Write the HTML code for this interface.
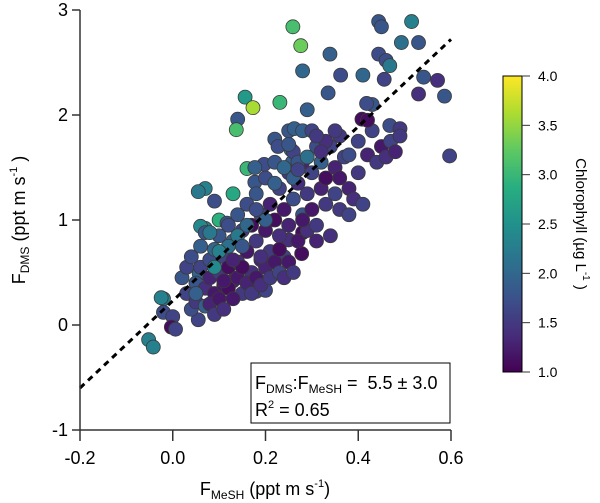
<!DOCTYPE html>
<html><head><meta charset="utf-8">
<style>
html,body{margin:0;padding:0;background:#fff;}
svg{display:block;font-family:"Liberation Sans",Arial,sans-serif;}
</style></head>
<body>
<svg id="chart" width="600" height="503" viewBox="0 0 600 503">
<defs>
<linearGradient id="vir" x1="0" y1="1" x2="0" y2="0">
<stop offset="0" stop-color="#440154"/><stop offset="0.125" stop-color="#472d7b"/>
<stop offset="0.25" stop-color="#3b528b"/><stop offset="0.375" stop-color="#2c728e"/>
<stop offset="0.5" stop-color="#21918c"/><stop offset="0.625" stop-color="#28ae80"/>
<stop offset="0.75" stop-color="#5ec962"/><stop offset="0.875" stop-color="#addc30"/>
<stop offset="1" stop-color="#fde725"/>
</linearGradient>
</defs>
<g id="points"></g>
<line id="fit" stroke="#000" stroke-width="3" stroke-dasharray="6,5"/>
<g id="axes"></g>
<g>
<rect x="251" y="363" width="199" height="60" fill="#fff" stroke="#000" stroke-width="1"/>
<text x="255" y="389" font-size="18">F<tspan font-size="12" dy="4">DMS</tspan><tspan dy="-4">:F</tspan><tspan font-size="12" dy="4">MeSH</tspan><tspan dy="-4"> =&#160; 5.5 ± 3.0</tspan></text>
<text x="255" y="416" font-size="18">R<tspan font-size="11" dy="-8">2</tspan><tspan dy="8"> = 0.65</tspan></text>
</g>
<text x="265" y="495" font-size="18" text-anchor="middle">F<tspan font-size="12" dy="4">MeSH</tspan><tspan dy="-4"> (ppt m s</tspan><tspan font-size="11" dy="-8">-1</tspan><tspan dy="8">)</tspan></text>
<text transform="translate(25,220) rotate(-90)" font-size="18" text-anchor="middle">F<tspan font-size="12" dy="4">DMS</tspan><tspan dy="-4"> (ppt m s</tspan><tspan font-size="11" dy="-8">-1</tspan><tspan dy="8"> )</tspan></text>
<g>
<rect x="503" y="76" width="19" height="296" fill="url(#vir)" stroke="#000" stroke-width="1"/>
<g id="cbticks"></g>
<text transform="translate(576,224) rotate(90)" font-size="15" text-anchor="middle">Chlorophyll (µg L<tspan font-size="10" dy="-7">-1</tspan><tspan dy="7"> )</tspan></text>
</g>
</svg>
<script>
const xTicks = [-0.2, 0.0, 0.2, 0.4, 0.6];
const yTicks = [-1, 0, 1, 2, 3];
const cTicks = [1.0, 1.5, 2.0, 2.5, 3.0, 3.5, 4.0];
const fitX = [-0.2, 0.6];
const fitY = [-0.6, 2.72];
const xs = [0.259,0.276,0.339,0.28,0.444,0.45,0.515,0.493,0.53,0.362,0.41,0.444,0.46,0.468,0.456,0.541,0.571,0.53,0.586,0.335,0.43,0.418,0.408,0.468,0.49,0.597,
0.156,0.173,0.231,0.14,0.137,0.29,0.25,0.262,0.28,0.22,0.227,0.255,0.258,0.197,0.16,0.177,0.07,0.055,0.09,0.13,0.177,0.07,
0.06,0.10,0.117,0.08,0.057,-0.02,-0.02,0.0,-0.003,0.055,0.18,0.2,0.25,0.28,0.31,-0.052,-0.042,-0.025,0.006,0.278,
0.03,0.04,0.05,0.05,0.06,0.07,0.07,0.08,0.08,0.09,0.09,0.10,0.10,0.11,0.11,0.12,0.12,0.13,0.13,0.14,0.14,0.15,0.15,0.16,0.16,0.17,0.17,0.18,0.18,0.19,0.19,0.20,0.20,0.21,0.21,0.22,0.22,0.23,0.23,0.24,0.24,0.25,0.25,0.26,0.26,0.27,0.27,0.28,0.28,0.29,0.29,0.30,0.30,0.31,0.31,0.32,0.32,0.33,0.33,0.34,0.34,0.35,0.35,0.36,0.36,0.37,0.38,0.38,0.39,0.40,0.41,0.42,0.43,0.44,0.45,0.46,0.47,0.48,0.49,0.42,
0.02,0.03,0.04,0.06,0.07,0.08,0.09,0.10,0.11,0.12,0.13,0.14,0.15,0.16,0.17,0.18,0.19,0.20,0.21,0.22,0.23,0.24,0.25,0.26,0.20,0.18,0.16,0.14,0.12,0.10,0.09,0.24,0.27,0.22,0.26,0.30,0.33,0.36,0.38,0.40,
0.31,0.32,0.29,0.35,0.25,0.27,0.11,0.13,0.05,0.15,0.08,0.23,0.19,0.28];
const ys = [2.84,2.66,2.58,2.42,2.89,2.84,2.89,2.69,2.69,2.38,2.38,2.58,2.52,2.47,2.34,2.36,2.33,2.2,2.18,2.21,2.1,2.11,1.96,1.9,1.87,1.61,
2.17,2.07,2.12,1.96,1.86,2.05,1.85,1.87,1.85,1.77,1.7,1.67,1.55,1.53,1.49,1.5,1.3,1.27,1.18,1.25,1.36,0.92,
0.94,1.0,0.97,0.62,0.49,0.25,0.12,0.08,-0.02,0.05,0.32,0.33,0.81,0.88,0.8,-0.14,-0.21,0.26,-0.04,0.68,
0.30,0.15,0.22,0.40,0.55,0.35,0.18,0.45,0.62,0.30,0.72,0.50,0.85,0.38,0.65,0.95,0.55,0.42,0.80,1.05,0.60,0.30,0.90,0.70,1.15,0.50,0.95,0.80,1.25,0.62,1.05,0.90,1.40,0.70,1.15,1.00,1.55,0.85,1.30,1.10,0.65,1.45,0.95,1.20,1.65,0.80,1.35,1.05,1.55,1.25,0.90,1.45,1.10,1.70,0.95,1.30,1.55,1.15,1.40,0.85,1.70,1.25,1.50,1.10,1.40,1.60,1.05,1.30,1.20,1.45,1.15,1.62,1.85,1.55,1.70,1.60,1.75,1.65,1.80,1.95,
0.45,0.55,0.65,0.75,0.88,0.20,0.10,0.25,0.15,0.35,0.25,0.45,0.55,0.40,0.30,0.45,0.38,0.55,0.45,0.60,0.50,0.45,0.60,0.50,1.00,1.10,0.95,0.85,0.75,0.70,0.55,1.50,1.55,1.35,1.40,1.85,1.75,1.80,1.62,1.75,
1.80,1.65,1.60,1.85,1.72,1.48,0.42,0.62,0.30,0.75,0.88,0.72,0.65,1.00];
const cs = [3.1,3.3,1.9,2.0,1.8,1.8,2.3,2.1,1.8,1.7,2.0,1.7,1.7,2.2,1.6,1.8,1.4,1.4,1.8,1.8,1.8,1.7,1.1,1.7,1.5,1.6,
2.6,3.6,3.0,1.8,3.1,1.9,1.8,1.9,1.9,1.8,1.7,2.2,1.9,1.7,3.0,1.9,2.3,2.2,1.7,2.8,1.8,2.3,
2.4,2.9,1.8,1.6,2.0,2.3,1.7,1.6,1.1,1.6,1.6,1.6,1.4,1.1,1.3,2.3,2.3,2.3,1.6,1.1,
1.6,1.7,1.5,1.8,1.6,1.4,1.9,1.3,1.7,1.2,2.0,1.5,1.8,1.2,1.6,1.7,1.1,1.3,1.9,1.8,1.4,1.5,1.6,1.2,1.7,1.4,1.1,1.5,1.8,1.3,1.6,1.2,1.7,1.5,1.3,1.1,1.8,1.4,1.6,1.2,1.6,1.5,1.3,1.7,1.6,1.2,1.4,1.8,1.3,1.5,1.4,1.6,1.2,1.7,1.5,1.3,1.9,1.5,1.1,1.4,1.6,1.6,1.3,1.5,1.2,1.6,1.6,1.3,1.4,1.5,1.6,1.3,1.6,1.5,1.2,1.4,1.6,1.3,1.5,1.1,
1.8,1.6,1.7,1.9,1.8,1.3,1.5,1.2,1.4,1.1,1.2,1.2,1.1,1.3,1.5,1.2,1.4,1.3,1.5,1.2,1.6,1.4,1.2,1.5,1.9,1.7,2.0,2.2,2.1,2.3,2.4,2.0,1.8,1.9,1.9,1.6,1.4,1.5,1.7,1.6,
1.5,1.4,2.1,1.5,1.8,1.6,1.2,1.3,1.9,1.8,2.2,1.1,1.4,1.2];

const NS = "http://www.w3.org/2000/svg";
const X0 = 80, X1 = 451, Y0 = 430, Y1 = 10;
const xScale = v => X0 + (v - (-0.2)) / 0.8 * (X1 - X0);
const yScale = v => Y0 - (v - (-1)) / 4 * (Y0 - Y1);
const cScale = v => 372 - (v - 1) / 3 * 296;
const vir = [[68,1,84],[71,45,123],[59,82,139],[44,114,142],[33,145,140],[40,174,128],[94,201,98],[173,220,48],[253,231,37]];
function colorOf(c){
  let t = Math.max(0, Math.min(1, (c - 1) / 3)) * 8;
  let i = Math.min(7, Math.floor(t)), f = t - i;
  const a = vir[i], b = vir[i + 1];
  return "rgb(" + [0,1,2].map(k => Math.round(a[k] + (b[k] - a[k]) * f)).join(",") + ")";
}
function mk(tag, attrs, parent){
  const e = document.createElementNS(NS, tag);
  for (const k in attrs) e.setAttribute(k, attrs[k]);
  parent.appendChild(e);
  return e;
}
const pg = document.getElementById("points");
for (let i = 0; i < xs.length; i++) {
  const c = mk("circle", {cx: xScale(xs[i]), cy: yScale(ys[i]), r: 7, fill: colorOf(cs[i]), stroke: "#3a3a3a", "stroke-width": 0.8}, pg);
  
  
}
const fit = document.getElementById("fit");
fit.setAttribute("x1", xScale(fitX[0])); fit.setAttribute("y1", yScale(fitY[0]));
fit.setAttribute("x2", xScale(fitX[1])); fit.setAttribute("y2", yScale(fitY[1]));

const ax = document.getElementById("axes");
const yl = mk("line", {x1: X0, y1: Y1, x2: X0, y2: Y0, stroke: "#333", "stroke-width": 1.5}, ax);


const xl = mk("line", {x1: X0, y1: Y0, x2: X1, y2: Y0, stroke: "#333", "stroke-width": 1.5}, ax);


yTicks.forEach(v => {
  const y = yScale(v);
  mk("line", {x1: X0 - 8, y1: y, x2: X0, y2: y, stroke: "#333", "stroke-width": 1.5}, ax);
  const t = mk("text", {x: X0 - 12, y: y + 6, "font-size": 18, "text-anchor": "end"}, ax);
  t.textContent = v;
  
  
});
xTicks.forEach(v => {
  const x = xScale(v);
  mk("line", {x1: x, y1: Y0, x2: x, y2: Y0 + 11, stroke: "#333", "stroke-width": 1.5}, ax);
  const t = mk("text", {x: x, y: Y0 + 34, "font-size": 18, "text-anchor": "middle"}, ax);
  t.textContent = v.toFixed(1);
  
  
});
const cb = document.getElementById("cbticks");
cTicks.forEach(v => {
  const y = cScale(v);
  mk("line", {x1: 522, y1: y, x2: 530, y2: y, stroke: "#333", "stroke-width": 1}, cb);
  const t = mk("text", {x: 538, y: y + 5, "font-size": 14}, cb);
  t.textContent = v.toFixed(1);
  
  
});
</script>
</body></html>
